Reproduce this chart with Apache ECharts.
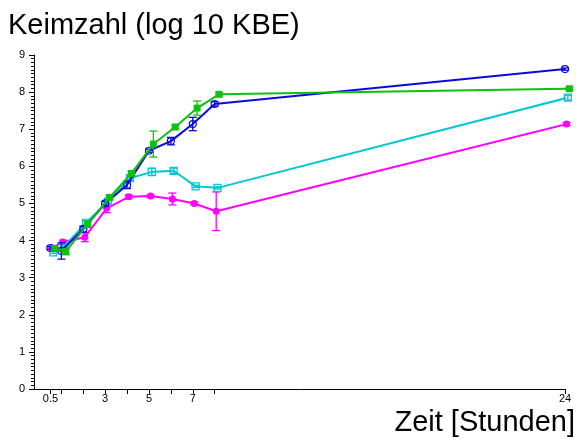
<!DOCTYPE html>
<html>
<head>
<meta charset="utf-8">
<script src="https://cdn.jsdelivr.net/npm/echarts@6/dist/echarts.min.js"></script>
<style>
  html, body { margin: 0; padding: 0; background: #fff; }
  #chart { width: 576px; height: 439px; }
</style>
</head>
<body>
<div id="chart"></div>
<script>
// Sampling times (hours)
const times = [0.5, 1, 2, 3, 4, 5, 6, 7, 8, 24];
const tickHours = [0.5, 1, 2, 3, 4, 5, 6, 7, 8, 24];
const labelHours = [0.5, 3, 5, 7, 24];

// Mean log10 CFU and standard deviation per batch
const batchA = [3.80, 3.72, 4.31, 5.00, 5.50, 6.42, 6.68, 7.14, 7.68, 8.62];
const batchAsd = [0.04, 0.22, 0.08, 0.05, 0.10, 0.04, 0.10, 0.18, 0.06, 0.03];
const batchB = [3.80, 3.96, 4.09, 4.87, 5.18, 5.20, 5.12, 5.00, 4.79, 7.14];
const batchBsd = [0.03, 0.05, 0.12, 0.12, 0.05, 0.03, 0.16, 0.04, 0.52, 0.04];
const batchC = [3.68, 3.84, 4.48, 5.05, 5.68, 5.85, 5.88, 5.46, 5.42, 7.85];
const batchCsd = [0.03, 0.04, 0.06, 0.05, 0.06, 0.10, 0.07, 0.03, 0.03, 0.06];
const batchD = [3.79, 3.70, 4.44, 5.16, 5.81, 6.60, 7.06, 7.57, 7.94, 8.09];
const batchDsd = [0.03, 0.08, 0.08, 0.05, 0.05, 0.35, 0.05, 0.19, 0.04, 0.03];

const FONT = 'Arial, "Liberation Sans", sans-serif';

// Small horizontal dodge so overlapping error bars stay readable
const batches = [
  { vals: batchB, sd: batchBsd, dodge: 0.07, color: '#ff00ff', symbol: 'circle', hollow: false, size: 7 },
  { vals: batchC, sd: batchCsd, dodge: 0.13, color: '#00c8d0', symbol: 'rect', hollow: true, size: 7 },
  { vals: batchA, sd: batchAsd, dodge: 0.0, color: '#0a0adc', symbol: 'circle', hollow: true, size: 7 },
  { vals: batchD, sd: batchDsd, dodge: 0.2, color: '#10c010', symbol: 'rect', hollow: false, size: 7 }
];

const series = [];
batches.forEach(function (b, k) {
  series.push({
    type: 'line',
    data: times.map(function (t, i) { return [t + b.dodge, b.vals[i]]; }),
    symbol: b.symbol,
    symbolSize: b.size,
    showSymbol: true,
    clip: false,
    lineStyle: { color: b.color, width: 2 },
    itemStyle: b.hollow
      ? { color: 'rgba(255,255,255,0)', borderColor: b.color, borderWidth: 1.2 }
      : { color: b.color, borderWidth: 0 },
    z: 2 + k,
    animation: false
  });
  series.push({
    type: 'custom',
    clip: false,
    data: times.map(function (t, i) { return [t + b.dodge, b.vals[i] - b.sd[i], b.vals[i] + b.sd[i]]; }),
    encode: { x: 0, y: [1, 2] },
    renderItem: function (params, api) {
      const x = api.value(0);
      const lo = api.coord([x, api.value(1)]);
      const hi = api.coord([x, api.value(2)]);
      const w = 4;
      const st = { stroke: b.color, lineWidth: 1.3 };
      return {
        type: 'group',
        children: [
          { type: 'line', shape: { x1: lo[0], y1: lo[1], x2: hi[0], y2: hi[1] }, style: st },
          { type: 'line', shape: { x1: lo[0] - w, y1: lo[1], x2: lo[0] + w, y2: lo[1] }, style: st },
          { type: 'line', shape: { x1: hi[0] - w, y1: hi[1], x2: hi[0] + w, y2: hi[1] }, style: st }
        ]
      };
    },
    z: 2 + k,
    animation: false
  });
});

const chart = echarts.init(document.getElementById('chart'), null, { renderer: 'canvas' });
chart.setOption({
  backgroundColor: '#fff',
  animation: false,
  grid: { left: 34, right: 11, top: 55, bottom: 50, containLabel: false },
  xAxis: {
    type: 'value',
    min: -0.25,
    max: 24,
    splitLine: { show: false },
    axisLine: { show: true, onZero: false, lineStyle: { color: '#000', width: 1 } },
    axisTick: { show: true, customValues: tickHours, length: 5, lineStyle: { color: '#000' } },
    axisLabel: {
      customValues: labelHours,
      formatter: function (v) { return String(v); },
      color: '#000', fontSize: 11, fontFamily: FONT, margin: 4
    }
  },
  yAxis: {
    type: 'value',
    min: 0,
    max: 9,
    interval: 1,
    splitLine: { show: false },
    axisLine: { show: true, onZero: false, lineStyle: { color: '#000', width: 1 } },
    axisTick: { show: true, length: 5, lineStyle: { color: '#000' } },
    minorTick: { show: true, splitNumber: 10, length: 3, lineStyle: { color: '#000' } },
    axisLabel: { color: '#000', fontSize: 11, fontFamily: FONT, margin: 9 }
  },
  graphic: [
    {
      type: 'text', left: 8, top: 11,
      style: { text: 'Keimzahl (log 10 KBE)', font: '29px ' + FONT, fill: '#000' }
    },
    {
      type: 'text', right: 1, bottom: 2,
      style: { text: 'Zeit [Stunden]', font: '29px ' + FONT, fill: '#000' }
    }
  ],
  series: series
});
</script>
</body>
</html>
